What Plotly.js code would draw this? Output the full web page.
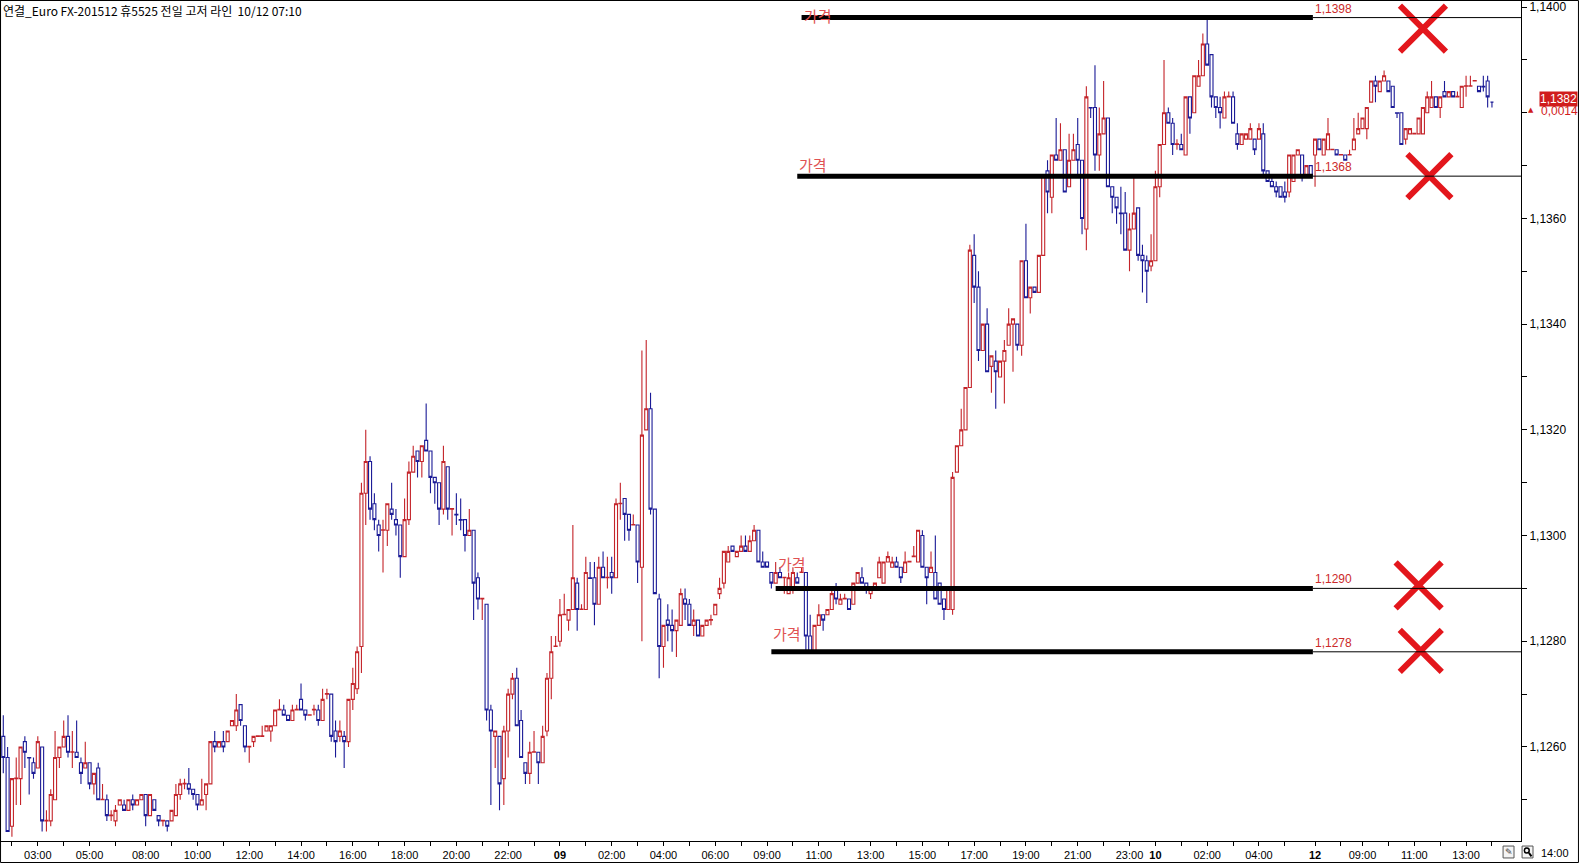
<!DOCTYPE html>
<html>
<head>
<meta charset="utf-8">
<script src="https://cdn.plot.ly/plotly-3.0.1.min.js"></script>
<style>
  html, body { margin: 0; padding: 0; background: #fff; }
  #chart { width: 1579px; height: 863px; }
</style>
</head>
<body>
<div id="chart"></div>
<script>
// 10-minute candles, Euro FX 201512, 10/08 ~02:00 .. 10/12 14:00
const openPx = [
  1.1262,1.1258,1.1245,1.1254,1.1254,1.1261,1.1258,1.1257,1.1256,1.1260,
  1.1246,1.1246,1.1250,1.1258,1.1260,1.1262,1.1259,1.1259,1.1257,1.1256,
  1.1257,1.1253,1.1256,1.1250,1.1250,1.1247,1.1246,1.1249,1.1249,1.1248,
  1.1250,1.1249,1.1250,1.1251,1.1247,1.1250,1.1247,1.1246,1.1246,1.1246,
  1.1247,1.1251,1.1253,1.1253,1.1252,1.1251,1.1249,1.1251,1.1253,1.1261,
  1.1260,1.1261,1.1261,1.1264,1.1264,1.1268,1.1264,1.1260,1.1261,1.1262,
  1.1262,1.1263,1.1263,1.1264,1.1267,1.1267,1.1266,1.1265,1.1267,1.1269,
  1.1267,1.1266,1.1267,1.1267,1.1265,1.1270,1.1270,1.1263,1.1262,1.1262,
  1.1261,1.1269,1.1271,1.1279,1.1308,1.1314,1.1306,1.1302,1.1301,1.1301,
  1.1305,1.1303,1.1302,1.1296,1.1303,1.1312,1.1316,1.1314,1.1318,1.1316,
  1.1311,1.1310,1.1305,1.1313,1.1305,1.1304,1.1303,1.1303,1.1300,1.1301,
  1.1292,1.1288,1.1287,1.1267,1.1262,1.1262,1.1254,1.1263,1.1270,1.1273,
  1.1265,1.1257,1.1255,1.1259,1.1259,1.1257,1.1263,1.1273,1.1279,1.1280,
  1.1285,1.1284,1.1286,1.1291,1.1286,1.1286,1.1292,1.1292,1.1287,1.1294,
  1.1292,1.1293,1.1292,1.1306,1.1307,1.1304,1.1302,1.1302,1.1294,1.1320,
  1.1324,1.1305,1.1288,1.1279,1.1284,1.1283,1.1282,1.1283,1.1288,1.1287,
  1.1283,1.1284,1.1281,1.1283,1.1284,1.1285,1.1289,1.1291,1.1295,1.1298,
  1.1296,1.1297,1.1298,1.1297,1.1299,1.1301,1.1295,1.1295,1.1293,1.1291,
  1.1293,1.1292,1.1289,1.1290,1.1292,1.1293,1.1293,1.1281,1.1278,1.1283,
  1.1285,1.1285,1.1286,1.1290,1.1287,1.1288,1.1288,1.1287,1.1291,1.1292,
  1.1291,1.1289,1.1290,1.1292,1.1291,1.1295,1.1294,1.1295,1.1294,1.1293,
  1.1295,1.1296,1.1295,1.1300,1.1294,1.1293,1.1293,1.1291,1.1288,1.1286,
  1.1286,1.1312,1.1317,1.1320,1.1328,1.1353,1.1347,1.1335,1.1340,1.1332,
  1.1333,1.1330,1.1333,1.1336,1.1340,1.1340,1.1336,1.1352,1.1345,1.1347,
  1.1346,1.1353,1.1369,1.1364,1.1372,1.1371,1.1373,1.1366,1.1371,1.1374,
  1.1371,1.1358,1.1381,1.1381,1.1372,1.1376,1.1379,1.1366,1.1364,1.1361,
  1.1361,1.1354,1.1358,1.1362,1.1353,1.1352,1.1351,1.1352,1.1366,1.1374,
  1.1380,1.1378,1.1374,1.1374,1.1372,1.1383,1.1380,1.1385,1.1387,1.1393,
  1.1391,1.1383,1.1381,1.1379,1.1383,1.1383,1.1376,1.1374,1.1375,1.1375,
  1.1375,1.1375,1.1376,1.1369,1.1367,1.1366,1.1366,1.1365,1.1365,1.1367,
  1.1372,1.1372,1.1368,1.1370,1.1372,1.1375,1.1372,1.1373,1.1373,1.1373,
  1.1372,1.1372,1.1372,1.1373,1.1376,1.1377,1.1377,1.1382,1.1386,1.1384,
  1.1386,1.1386,1.1385,1.1380,1.1380,1.1375,1.1376,1.1376,1.1376,1.1376,
  1.1380,1.1381,1.1383,1.1381,1.1384,1.1383,1.1384,1.1383,1.1381,1.1385,
  1.1385,1.1386,1.1385,1.1385,1.1386,1.1382
];
const highPx = [
  1.1266,1.1260,1.1254,1.1258,1.1260,1.1262,1.1258,1.1258,1.1262,1.1260,
  1.1248,1.1252,1.1263,1.1260,1.1265,1.1266,1.1263,1.1265,1.1258,1.1261,
  1.1257,1.1255,1.1257,1.1253,1.1251,1.1248,1.1249,1.1250,1.1250,1.1250,
  1.1251,1.1250,1.1251,1.1251,1.1251,1.1250,1.1247,1.12461,1.1246,1.1248,
  1.1253,1.1254,1.1254,1.1256,1.1252,1.1251,1.1254,1.1253,1.1261,1.1263,
  1.1261,1.1263,1.1263,1.1265,1.1270,1.1268,1.1264,1.12601,1.1262,1.12621,
  1.1264,1.1264,1.1264,1.1267,1.1269,1.1268,1.1266,1.1268,1.1268,1.1272,
  1.1267,1.12661,1.1268,1.1268,1.1271,1.1271,1.1270,1.1265,1.1265,1.1263,
  1.1269,1.1275,1.1279,1.1310,1.1320,1.1315,1.1308,1.1303,1.1303,1.1306,
  1.1310,1.1305,1.1302,1.1307,1.1314,1.1317,1.1316,1.1317,1.1325,1.1316,
  1.1311,1.1310,1.1317,1.1313,1.13051,1.1308,1.1307,1.1303,1.1305,1.1301,
  1.1293,1.12881,1.1287,1.1268,1.1263,1.1262,1.1264,1.1271,1.1274,1.1275,
  1.1267,1.1257,1.1261,1.1263,1.1259,1.1264,1.1274,1.1281,1.1281,1.1288,
  1.1289,1.1286,1.1302,1.1292,1.1287,1.1296,1.1295,1.1295,1.1296,1.1297,
  1.1296,1.1296,1.1307,1.1310,1.1307,1.1304,1.1304,1.1302,1.1335,1.1337,
  1.1327,1.1305,1.1289,1.1283,1.1287,1.1286,1.1284,1.1290,1.1290,1.1288,
  1.1286,1.1284,1.1283,1.1284,1.1285,1.1287,1.1292,1.1297,1.1298,1.1298,
  1.1297,1.1300,1.1300,1.1300,1.1302,1.1301,1.1297,1.1295,1.1293,1.1295,
  1.1294,1.12921,1.1293,1.1294,1.1293,1.1294,1.1293,1.1285,1.1283,1.1287,
  1.1285,1.1286,1.1290,1.1291,1.1289,1.1289,1.1288,1.1291,1.1293,1.1294,
  1.1291,1.1290,1.1291,1.1296,1.1295,1.1297,1.1296,1.1296,1.1294,1.1297,
  1.12951,1.1298,1.1301,1.1301,1.1294,1.1297,1.1300,1.1291,1.1288,1.1290,
  1.1312,1.1317,1.1324,1.1328,1.1355,1.1357,1.1350,1.1340,1.1343,1.1334,
  1.1335,1.1333,1.1337,1.1343,1.1341,1.1340,1.1352,1.1359,1.1347,1.1347,
  1.1353,1.1368,1.1371,1.1372,1.1379,1.1378,1.1373,1.1376,1.1376,1.1379,
  1.1371,1.1385,1.1381,1.1389,1.1381,1.1386,1.1379,1.1366,1.1364,1.1366,
  1.1365,1.1361,1.1368,1.1362,1.1355,1.1353,1.1357,1.1369,1.1374,1.1390,
  1.1381,1.1379,1.1375,1.1376,1.1383,1.1383,1.1387,1.1390,1.1395,1.1398,
  1.1391,1.1383,1.1383,1.1384,1.1384,1.1384,1.1378,1.1376,1.1376,1.1378,
  1.1375,1.1378,1.1378,1.1369,1.1368,1.1367,1.1366,1.1367,1.1372,1.1372,
  1.1373,1.1372,1.1370,1.1370,1.1375,1.1375,1.1375,1.1379,1.13731,1.1373,
  1.13721,1.1372,1.1373,1.1379,1.1380,1.1379,1.1381,1.1386,1.1387,1.1386,
  1.1388,1.1386,1.1385,1.1380,1.1380,1.1377,1.1377,1.13761,1.1379,1.1381,
  1.1384,1.1386,1.1383,1.1383,1.1386,1.1384,1.1384,1.1384,1.1385,1.1387,
  1.1387,1.13861,1.1385,1.1387,1.1387,1.1382
];
const lowPx = [
  1.1255,1.1244,1.1243,1.1249,1.1249,1.1256,1.1251,1.1254,1.1256,1.1244,
  1.1244,1.1245,1.1250,1.1256,1.1260,1.1258,1.1256,1.1258,1.1253,1.1256,
  1.1252,1.1251,1.1250,1.1250,1.1246,1.1246,1.1245,1.1249,1.1248,1.1248,
  1.1248,1.1249,1.1250,1.1245,1.1247,1.1248,1.1245,1.1245,1.1244,1.1246,
  1.1247,1.1250,1.1252,1.1251,1.1250,1.1248,1.1249,1.1248,1.1253,1.1259,
  1.1260,1.1259,1.1261,1.1264,1.1263,1.1264,1.1259,1.1257,1.1260,1.1262,
  1.1262,1.1263,1.1261,1.1264,1.1267,1.1266,1.1265,1.1265,1.1267,1.1267,
  1.1265,1.1266,1.1266,1.1264,1.1265,1.1269,1.1261,1.1258,1.1261,1.1256,
  1.1260,1.1267,1.1270,1.1274,1.1302,1.1303,1.1301,1.1297,1.1293,1.1298,
  1.1303,1.1300,1.1292,1.1296,1.1302,1.1312,1.1311,1.1311,1.1316,1.1308,
  1.1306,1.1302,1.1304,1.1303,1.1300,1.1302,1.1301,1.1297,1.1300,1.1284,
  1.1286,1.1284,1.1265,1.1249,1.1256,1.1248,1.1249,1.1258,1.1269,1.1264,
  1.1258,1.1253,1.1253,1.1259,1.1253,1.1257,1.1262,1.1269,1.1279,1.1279,
  1.1285,1.1282,1.1286,1.1282,1.1286,1.1286,1.12919,1.1283,1.1287,1.1292,
  1.1290,1.1289,1.1292,1.1303,1.1299,1.1299,1.1302,1.1291,1.1280,1.1320,
  1.1304,1.1289,1.1273,1.1275,1.1280,1.1278,1.1277,1.1283,1.1284,1.1283,
  1.1281,1.1281,1.1281,1.1283,1.1283,1.1285,1.1288,1.1290,1.1295,1.1297,
  1.1296,1.1297,1.1297,1.1297,1.1299,1.1295,1.1294,1.1294,1.1290,1.1291,
  1.1292,1.1289,1.1289,1.1289,1.1291,1.1293,1.1278,1.1278,1.1278,1.1283,
  1.1282,1.1285,1.1286,1.1287,1.1287,1.1288,1.1286,1.1287,1.1291,1.1291,
  1.1289,1.1288,1.1290,1.1292,1.1291,1.1295,1.1294,1.1294,1.1291,1.1293,
  1.1295,1.1296,1.1295,1.1294,1.1287,1.1293,1.1288,1.1287,1.1284,1.1286,
  1.1285,1.1312,1.1317,1.1320,1.1328,1.1344,1.1333,1.1335,1.1331,1.1327,
  1.1324,1.1330,1.1325,1.1336,1.1331,1.1335,1.1334,1.1345,1.1342,1.1346,
  1.1346,1.1353,1.1361,1.1361,1.1371,1.1371,1.1365,1.1366,1.1371,1.1368,
  1.1357,1.1354,1.1379,1.1369,1.1369,1.1376,1.1366,1.1361,1.1359,1.1357,
  1.1354,1.1350,1.1358,1.1352,1.1346,1.1344,1.1350,1.1352,1.1364,1.1374,
  1.1378,1.1372,1.1373,1.1373,1.1372,1.1376,1.1380,1.1385,1.1387,1.1389,
  1.1381,1.1379,1.1377,1.1379,1.1383,1.1378,1.1373,1.1374,1.1375,1.1375,
  1.1372,1.1375,1.1368,1.1367,1.1366,1.1364,1.1364,1.1363,1.1364,1.1367,
  1.1372,1.1367,1.1368,1.1368,1.1366,1.1373,1.1372,1.1373,1.1373,1.1372,
  1.1372,1.1371,1.1372,1.1373,1.1376,1.1377,1.1375,1.1382,1.1382,1.1384,
  1.1386,1.1384,1.1381,1.1379,1.1374,1.1374,1.1376,1.1376,1.1376,1.1376,
  1.1380,1.1381,1.1381,1.1379,1.1383,1.1383,1.1383,1.1383,1.1381,1.1383,
  1.1385,1.1386,1.1384,1.1384,1.1381,1.1381
];
const closePx = [
  1.1258,1.1244,1.1254,1.12541,1.1260,1.1259,1.12579,1.1255,1.1261,1.1246,
  1.12461,1.1251,1.1258,1.1260,1.1262,1.1259,1.12591,1.1258,1.1255,1.1257,
  1.1253,1.1255,1.1250,1.12501,1.1247,1.12471,1.1248,1.1250,1.1248,1.1250,
  1.1249,1.1250,1.1251,1.1247,1.1251,1.1248,1.1246,1.12461,1.1245,1.1248,
  1.1251,1.1253,1.12531,1.1252,1.1251,1.1249,1.1250,1.1253,1.1261,1.1260,
  1.1261,1.1260,1.1263,1.1265,1.1267,1.1265,1.1260,1.12601,1.1262,1.12621,
  1.12621,1.1264,1.1264,1.1267,1.12671,1.1266,1.1265,1.1267,1.12671,1.1267,
  1.1266,1.12661,1.12671,1.1265,1.1269,1.12701,1.1262,1.1261,1.1263,1.1261,
  1.1269,1.1272,1.1278,1.1308,1.1314,1.1305,1.1303,1.1300,1.13011,1.1306,
  1.1304,1.1302,1.1296,1.1303,1.1312,1.1315,1.1314,1.1317,1.1316,1.1311,
  1.1310,1.1305,1.1314,1.1305,1.13051,1.13039,1.13029,1.1300,1.1301,1.1291,
  1.1288,1.12881,1.1267,1.1263,1.1263,1.1253,1.1263,1.1270,1.1273,1.1264,
  1.1258,1.1255,1.1259,1.12591,1.1257,1.1262,1.1273,1.1278,1.12791,1.1285,
  1.12851,1.1286,1.1292,1.1286,1.12861,1.1293,1.12919,1.1287,1.1294,1.1292,
  1.12921,1.1292,1.1306,1.13061,1.1304,1.1301,1.13021,1.1295,1.1319,1.1324,
  1.1305,1.1289,1.1279,1.1283,1.1283,1.1282,1.1284,1.1289,1.1287,1.1283,
  1.1284,1.1281,1.1283,1.1284,1.12841,1.1287,1.1290,1.1297,1.1297,1.1297,
  1.1297,1.1298,1.1297,1.1299,1.1301,1.1295,1.1294,1.1294,1.1291,1.1293,
  1.1292,1.12921,1.1292,1.1293,1.1291,1.12931,1.1281,1.1278,1.1283,1.1285,
  1.1284,1.1286,1.1289,1.1288,1.1288,1.12881,1.1286,1.1291,1.1293,1.1291,
  1.1290,1.1290,1.1291,1.1295,1.1295,1.1296,1.1295,1.1294,1.1292,1.1295,
  1.12951,1.12961,1.1301,1.1294,1.1292,1.1294,1.1288,1.1287,1.1286,1.1290,
  1.1311,1.1317,1.1320,1.1328,1.1354,1.1347,1.1335,1.1340,1.1331,1.1334,
  1.1331,1.1333,1.1335,1.1340,1.1341,1.1336,1.1352,1.1345,1.1347,1.1346,
  1.1353,1.1368,1.1365,1.1372,1.1371,1.1373,1.1365,1.1371,1.1373,1.1371,
  1.1360,1.1383,1.13809,1.1372,1.1376,1.1379,1.1366,1.1364,1.1362,1.13609,
  1.1354,1.1358,1.1361,1.1353,1.1352,1.1350,1.1352,1.1366,1.1374,1.1380,
  1.1378,1.1374,1.13741,1.1373,1.1383,1.1379,1.1387,1.1387,1.1393,1.1389,
  1.1383,1.1381,1.1380,1.1383,1.13831,1.1378,1.1374,1.1376,1.1376,1.1377,
  1.1373,1.1377,1.1369,1.1367,1.1366,1.1365,1.1364,1.1364,1.1372,1.1372,
  1.1373,1.1368,1.1370,1.1368,1.1375,1.1373,1.1375,1.1376,1.13731,1.1372,
  1.13721,1.1371,1.13721,1.1375,1.1377,1.1379,1.1381,1.1386,1.1385,1.1386,
  1.1387,1.1384,1.1381,1.13799,1.1374,1.1377,1.1377,1.13761,1.1379,1.1381,
  1.1383,1.1383,1.1381,1.1383,1.1383,1.1384,1.1383,1.13831,1.1385,1.13851,
  1.13851,1.13861,1.1384,1.13849,1.1383,1.1382
];

// time labels along the bottom (candle index where each label sits)
const timeTickPos = [8, 20, 33, 45, 57, 69, 81, 93, 105, 117, 129, 141, 153, 165, 177,
  189, 201, 213, 225, 237, 249, 261, 267, 279, 291, 304, 315, 327, 339];
const timeTickText = ['03:00', '05:00', '08:00', '10:00', '12:00', '14:00', '16:00', '18:00',
  '20:00', '22:00', '<b>09</b>', '02:00', '04:00', '06:00', '09:00', '11:00', '13:00', '15:00',
  '17:00', '19:00', '21:00', '23:00', '<b>10</b>', '02:00', '04:00', '<b>12</b>', '09:00',
  '11:00', '13:00'];
const lastTimeText = '14:00';

// price axis
const priceTicks = [1.1250, 1.1260, 1.1270, 1.1280, 1.1290, 1.1300, 1.1310, 1.1320,
  1.1330, 1.1340, 1.1350, 1.1360, 1.1370, 1.1380, 1.1390, 1.1400];
const priceLabelled = [1.1260, 1.1280, 1.1300, 1.1320, 1.1340, 1.1360, 1.1400];

// previous day high / low lines
const levels = [1.1398, 1.1368, 1.1290, 1.1278];
const levelStart = [185, 184, 179, 178];
const levelEnd = 303.5;
const levelTag = '가격';

const lastPrice = 1.1382;
const lastChange = 0.0014;
const chartTitle = '연결_Euro FX-201512 휴5525 전일 고저 라인  10/12 07:10';

// ---- styling ----
const RED = '#c4242a';
const BLUE = '#1a1a96';
const MARK_RED = '#e3161c';
const NUM_FONT = 'Liberation Sans Narrow, Liberation Sans, Arial, sans-serif';
const KR_FONT = 'Noto Sans CJK KR, Noto Sans, sans-serif';

const xRange = [-0.53, 351.73];
const yRange = [1.12422, 1.140114];
const pxPerPrice = 52850;

const tagShift = [2, 12, 25, 18];
const crossX = [329, 330.5, 328, 328.5];
const crossDownPx = [11, 0, -3, -1];
const crossSize = [46, 44, 46, 42];

const fmt = v => v.toFixed(4).replace('.', ',');

const idx = closePx.map((_, i) => i);

// bottom ticks: labelled ones plus an unlabelled tick one hour later
let xTickVals = [timeTickPos[0] - 6];
let xTickText = [''];
timeTickPos.forEach((p, i) => {
  xTickVals.push(p);
  xTickText.push(timeTickText[i]);
  const next = i < timeTickPos.length - 1 ? timeTickPos[i + 1] : p + 12;
  if (next - p > 8) {
    xTickVals.push(p + 6);
    xTickText.push('');
  }
});

const yTickText = priceTicks.map(v => priceLabelled.some(l => Math.abs(l - v) < 1e-9) ? fmt(v) : '');

let candles = {
  type: 'candlestick',
  x: idx,
  open: openPx,
  high: highPx,
  low: lowPx,
  close: closePx,
  increasing: { line: { color: RED, width: 1.1 }, fillcolor: '#ffffff' },
  decreasing: { line: { color: BLUE, width: 1.1 }, fillcolor: '#ffffff' },
  whiskerwidth: 0,
  hoverinfo: 'skip',
  showlegend: false
};

let crosses = {
  type: 'scatter',
  mode: 'markers',
  x: crossX,
  y: levels.map((v, i) => v - crossDownPx[i] / pxPerPrice),
  marker: {
    symbol: 'x-thin',
    size: crossSize,
    color: MARK_RED,
    opacity: 1,
    line: { color: MARK_RED, width: 6 }
  },
  cliponaxis: false,
  hoverinfo: 'skip',
  showlegend: false
};

let shapes = [];
levels.forEach((lv, i) => {
  shapes.push({ type: 'line', xref: 'x', yref: 'y', x0: levelStart[i], x1: levelEnd, y0: lv, y1: lv,
    line: { color: '#000', width: 5 } });
  shapes.push({ type: 'line', xref: 'x', yref: 'y', x0: levelEnd, x1: xRange[1], y0: lv, y1: lv,
    line: { color: '#000', width: 1 } });
});
// outer frame of the whole panel
shapes.push({ type: 'rect', xref: 'paper', yref: 'paper', x0: -0.0003, x1: 1.0378, y0: -0.0256, y1: 1.0006,
  line: { color: '#000', width: 1 } });
// small tool buttons at bottom right
shapes.push({ type: 'rect', xref: 'paper', yref: 'paper', x0: 0.9882, x1: 0.9954, y0: -0.0202, y1: -0.0060,
  line: { color: '#555', width: 1 }, fillcolor: '#f4f4f4' });
shapes.push({ type: 'rect', xref: 'paper', yref: 'paper', x0: 1.0007, x1: 1.0079, y0: -0.0202, y1: -0.0060,
  line: { color: '#555', width: 1 }, fillcolor: '#f4f4f4' });
shapes.push({ type: 'circle', xref: 'paper', yref: 'paper', x0: 1.0022, x1: 1.0054, y0: -0.0143, y1: -0.0083,
  line: { color: '#000', width: 1.5 } });
shapes.push({ type: 'line', xref: 'paper', yref: 'paper', x0: 1.0052, x1: 1.0069, y0: -0.0141, y1: -0.0182,
  line: { color: '#000', width: 2 } });

let annotations = [];
annotations.push({ xref: 'paper', yref: 'paper', x: 0, y: 1, xanchor: 'left', yanchor: 'top',
  xshift: 0, yshift: 1, showarrow: false, text: chartTitle,
  font: { family: KR_FONT, size: 12, color: '#000' } });
levels.forEach((lv, i) => {
  annotations.push({ xref: 'x', yref: 'y', x: levelStart[i], y: lv, xanchor: 'left', yanchor: 'middle',
    yshift: tagShift[i], showarrow: false, text: levelTag,
    font: { family: KR_FONT, size: 15, color: '#e05252' } });
  annotations.push({ xref: 'x', yref: 'y', x: levelEnd, y: lv, xanchor: 'left', yanchor: 'bottom',
    yshift: 0, showarrow: false, text: fmt(lv),
    font: { family: NUM_FONT, size: 12, color: '#cc2a2a' } });
});
annotations.push({ xref: 'paper', yref: 'y', x: 1.0118, y: lastPrice, xanchor: 'left', yanchor: 'middle',
  yshift: 3, showarrow: false, text: fmt(lastPrice), bgcolor: '#d01c1c', borderpad: 0,
  font: { family: NUM_FONT, size: 12, color: '#ffffff' } });
annotations.push({ xref: 'paper', yref: 'y', x: 1.0118, y: lastPrice, xanchor: 'left', yanchor: 'middle',
  yshift: -9, showarrow: false, text: fmt(lastChange),
  font: { family: NUM_FONT, size: 12, color: '#d01c1c' } });
annotations.push({ xref: 'paper', yref: 'y', x: 1.0064, y: lastPrice, xanchor: 'center', yanchor: 'middle',
  yshift: -8, showarrow: false, text: '▲',
  font: { family: 'DejaVu Sans', size: 7, color: '#d01c1c' } });
annotations.push({ xref: 'paper', yref: 'paper', x: 1.0224, y: -0.0143, xanchor: 'center', yanchor: 'middle',
  showarrow: false, text: lastTimeText, font: { family: NUM_FONT, size: 11, color: '#000' } });
annotations.push({ xref: 'paper', yref: 'paper', x: 0.9918, y: -0.0131, xanchor: 'center', yanchor: 'middle',
  showarrow: false, text: '✎', font: { family: 'DejaVu Sans', size: 9, color: '#333' } });

let layout = {
  width: 1579,
  height: 863,
  margin: { l: 1, r: 58, t: 1, b: 22, pad: 0 },
  paper_bgcolor: '#ffffff',
  plot_bgcolor: '#ffffff',
  showlegend: false,
  separators: ',.',
  boxgap: 0.3,
  boxgroupgap: 0,
  xaxis: {
    type: 'linear',
    range: xRange,
    showgrid: false,
    zeroline: false,
    showline: true,
    mirror: true,
    linecolor: '#000',
    linewidth: 1,
    ticks: 'outside',
    ticklen: 4,
    tickcolor: '#000',
    tickmode: 'array',
    tickvals: xTickVals,
    ticktext: xTickText,
    tickfont: { family: NUM_FONT, size: 11, color: '#000' },
    rangeslider: { visible: false },
    fixedrange: true
  },
  yaxis: {
    range: yRange,
    side: 'right',
    showgrid: false,
    zeroline: false,
    showline: true,
    mirror: true,
    linecolor: '#000',
    linewidth: 1,
    ticks: 'outside',
    ticklen: 5,
    tickcolor: '#000',
    tickmode: 'array',
    tickvals: priceTicks,
    ticktext: yTickText,
    tickfont: { family: NUM_FONT, size: 12, color: '#000' },
    fixedrange: true
  },
  shapes: shapes,
  annotations: annotations
};

let config = { displayModeBar: false, responsive: false, staticPlot: true };

Plotly.newPlot('chart', [candles, crosses], layout, config);
</script>
</body>
</html>
